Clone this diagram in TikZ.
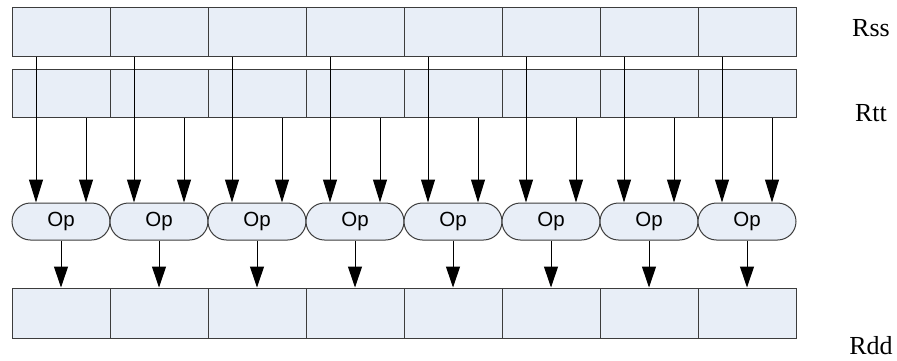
\documentclass[tikz,border=0pt]{standalone}
\usepackage{fontspec}
\setmainfont{Liberation Serif}
\newfontfamily\opfont{Liberation Sans}
\usetikzlibrary{arrows.meta}
\definecolor{regfill}{RGB}{232,238,247}
\definecolor{regline}{RGB}{60,60,60}
\tikzset{
  cell/.style={draw=regline, fill=regfill, line width=1pt, inner sep=0pt,
    minimum width=98pt, minimum height=#1},
  opbox/.style={draw=regline, fill=regfill, line width=1pt, inner sep=0pt,
    minimum width=98pt, minimum height=37pt, rounded corners=18.5pt,
    font=\opfont\fontsize{20.5}{24}\selectfont},
  reglabel/.style={anchor=base, inner sep=0pt, font=\fontsize{26}{30}\selectfont},
}
\begin{document}
\begin{tikzpicture}[x=1pt, y=-1pt]
      \useasboundingbox (0,0) rectangle (897,360);
      \draw
        (61,31.5) node[cell=49pt] (s0){}
        (159,31.5) node[cell=49pt] (s1){}
        (257,31.5) node[cell=49pt] (s2){}
        (355,31.5) node[cell=49pt] (s3){}
        (453,31.5) node[cell=49pt] (s4){}
        (551,31.5) node[cell=49pt] (s5){}
        (649,31.5) node[cell=49pt] (s6){}
        (747,31.5) node[cell=49pt] (s7){}
        (61,93) node[cell=48pt] (t0){}
        (159,93) node[cell=48pt] (t1){}
        (257,93) node[cell=48pt] (t2){}
        (355,93) node[cell=48pt] (t3){}
        (453,93) node[cell=48pt] (t4){}
        (551,93) node[cell=48pt] (t5){}
        (649,93) node[cell=48pt] (t6){}
        (747,93) node[cell=48pt] (t7){}
        (61,221.5) node[opbox] (op0){Op}
        (159,221.5) node[opbox] (op1){Op}
        (257,221.5) node[opbox] (op2){Op}
        (355,221.5) node[opbox] (op3){Op}
        (453,221.5) node[opbox] (op4){Op}
        (551,221.5) node[opbox] (op5){Op}
        (649,221.5) node[opbox] (op6){Op}
        (747,221.5) node[opbox] (op7){Op}
        (61,313) node[cell=50pt] (d0){}
        (159,313) node[cell=50pt] (d1){}
        (257,313) node[cell=50pt] (d2){}
        (355,313) node[cell=50pt] (d3){}
        (453,313) node[cell=50pt] (d4){}
        (551,313) node[cell=50pt] (d5){}
        (649,313) node[cell=50pt] (d6){}
        (747,313) node[cell=50pt] (d7){}
        (871,36) node[reglabel] (rss){Rss}
        (871,121) node[reglabel] (rtt){Rtt}
        (871,354) node[reglabel] (rdd){Rdd};
      \begin{scope}[-{Triangle[length=23pt,width=14pt]}, line width=1pt]
        \draw ([xshift=-25]s0.south) to ([xshift=-25]op0.north);
        \draw ([xshift=-25]s1.south) to ([xshift=-25]op1.north);
        \draw ([xshift=-25]s2.south) to ([xshift=-25]op2.north);
        \draw ([xshift=-25]s3.south) to ([xshift=-25]op3.north);
        \draw ([xshift=-25]s4.south) to ([xshift=-25]op4.north);
        \draw ([xshift=-25]s5.south) to ([xshift=-25]op5.north);
        \draw ([xshift=-25]s6.south) to ([xshift=-25]op6.north);
        \draw ([xshift=-25]s7.south) to ([xshift=-25]op7.north);
        \draw ([xshift=25]t0.south) to ([xshift=25]op0.north);
        \draw ([xshift=25]t1.south) to ([xshift=25]op1.north);
        \draw ([xshift=25]t2.south) to ([xshift=25]op2.north);
        \draw ([xshift=25]t3.south) to ([xshift=25]op3.north);
        \draw ([xshift=25]t4.south) to ([xshift=25]op4.north);
        \draw ([xshift=25]t5.south) to ([xshift=25]op5.north);
        \draw ([xshift=25]t6.south) to ([xshift=25]op6.north);
        \draw ([xshift=25]t7.south) to ([xshift=25]op7.north);
      \end{scope}
      \begin{scope}[-{Triangle[length=21pt,width=14pt]}, line width=1pt]
        \draw (op0) to (d0);
        \draw (op1) to (d1);
        \draw (op2) to (d2);
        \draw (op3) to (d3);
        \draw (op4) to (d4);
        \draw (op5) to (d5);
        \draw (op6) to (d6);
        \draw (op7) to (d7);
      \end{scope}
    \end{tikzpicture}
\end{document}
